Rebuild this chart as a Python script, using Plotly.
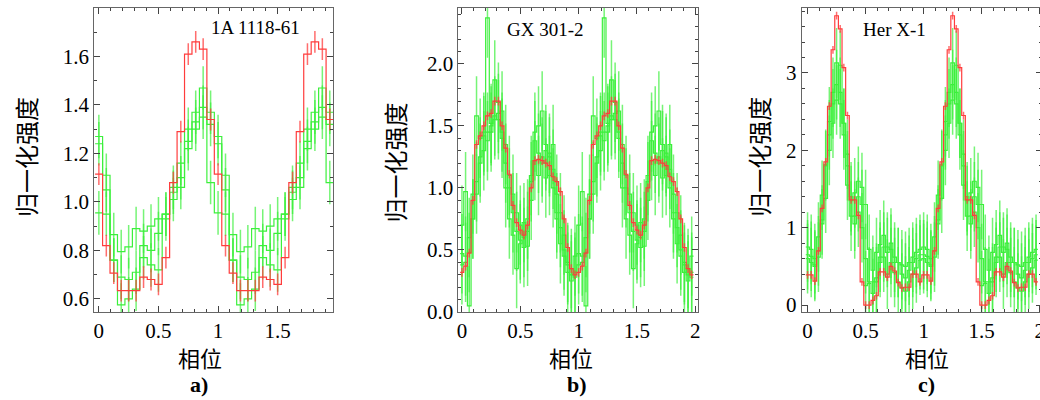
import plotly.graph_objects as go

# ---------------- data (one pulse cycle, plotted twice) ----------------
bins_a = 16
red_a = [1.115, 0.82, 0.706, 0.634, 0.634, 0.634, 0.69, 0.68, 0.66, 0.77, 1.08, 1.29, 1.61, 1.66, 1.63, 1.34]
green_a1 = [1.24, 1.11, 0.865, 0.795, 0.815, 0.89, 0.88, 0.90, 0.93, 0.95, 1.06, 1.16, 1.30, 1.33, 1.35, 1.32]
green_a2 = [1.27, 1.05, 0.76, 0.69, 0.68, 0.71, 0.82, 0.80, 0.87, 0.93, 1.04, 1.10, 1.22, 1.37, 1.47, 1.37]
green_a3 = [0.955, 0.95, 0.76, 0.575, 0.60, 0.64, 0.77, 0.74, 0.72, 0.95, 1.01, 1.06, 1.25, 1.30, 1.39, 1.08]
red_a_err = 0.045
green_a_err = 0.09

bins_b = 32
red_b = [0.32, 0.37, 0.475, 0.90, 1.35, 1.42, 1.50, 1.58, 1.60, 1.70, 1.70, 1.50, 1.32, 1.11, 0.86, 0.72,
         0.66, 0.62, 0.70, 1.00, 1.22, 1.23, 1.22, 1.20, 1.18, 1.09, 1.05, 0.97, 0.75, 0.52, 0.35, 0.30]
green_b1 = [0.70, 0.97, 0.05, 0.75, 1.58, 1.40, 1.45, 2.37, 1.52, 1.87, 1.69, 1.40, 1.00, 0.75, 0.62, 0.35,
            0.55, 0.72, 0.53, 1.10, 1.45, 1.50, 1.62, 1.35, 1.10, 1.35, 0.75, 0.55, 0.62, 0.40, 0.25, 0.45]
green_b2 = [0.47, 0.45, 0.60, 0.95, 1.05, 1.25, 1.42, 1.38, 1.45, 1.55, 1.60, 1.62, 1.35, 1.10, 0.95, 0.80,
            0.70, 0.60, 0.75, 1.05, 1.38, 1.28, 1.20, 1.30, 1.25, 1.00, 0.95, 0.80, 0.50, 0.38, 0.30, 0.32]
green_b3 = [0.38, 0.40, 0.48, 0.75, 0.95, 1.20, 1.30, 1.45, 1.50, 1.58, 1.55, 1.45, 1.20, 1.00, 0.80, 0.65,
            0.58, 0.52, 0.65, 0.90, 1.22, 1.10, 1.25, 1.08, 1.28, 1.15, 0.80, 0.68, 0.45, 0.32, 0.35, 0.28]
red_b_err = 0.035
green_b_err = 0.32

bins_c = 32
red_c = [0.39, 0.39, 0.31, 0.70, 1.25, 1.85, 2.57, 3.30, 3.74, 3.57, 3.07, 2.45, 1.36, 1.36, 1.16, 0.30,
         0.00, 0.00, 0.06, 0.12, 0.43, 0.43, 0.36, 0.50, 0.44, 0.29, 0.22, 0.23, 0.23, 0.40, 0.40, 0.30]
green_c1 = [0.75, 0.72, 0.60, 0.88, 1.42, 1.82, 2.37, 2.75, 2.85, 2.60, 2.20, 1.95, 1.35, 1.45, 1.60, 1.52,
            1.30, 0.72, 0.45, 0.68, 0.78, 0.90, 0.75, 0.72, 0.55, 0.55, 0.52, 0.50, 0.55, 0.62, 0.68, 0.72]
green_c2 = [0.65, 0.63, 0.52, 0.70, 1.10, 1.80, 2.20, 2.60, 3.13, 2.75, 2.35, 1.80, 1.40, 1.15, 1.40, 1.30,
            0.60, 0.30, 0.30, 0.35, 0.62, 0.75, 0.68, 0.80, 0.62, 0.55, 0.40, 0.35, 0.45, 0.55, 0.60, 0.65]
green_c3 = [0.60, 0.55, 0.50, 0.62, 1.05, 1.38, 2.00, 2.35, 2.65, 3.10, 2.35, 1.55, 1.15, 1.05, 1.20, 1.00,
            0.25, 0.28, 0.15, 0.30, 0.55, 0.62, 0.40, 0.55, 0.42, 0.30, 0.22, 0.18, 0.30, 0.40, 0.48, 0.58]
red_c_err = 0.05
green_c_err = 0.45

sources = ["1A 1118-61", "GX 301-2", "Her X-1"]
panel_labels = ["a)", "b)", "c)"]
x_title = "相位"
y_title = "归一化强度"
x_tickvals = [0, 0.5, 1, 1.5, 2]
x_ticktext = ["0", "0.5", "1", "1.5", "2"]

# ---------------- style ----------------
RED = "rgb(255,60,60)"
RED_ERR = "rgba(255,60,60,0.75)"
GREEN = "rgb(60,240,60)"
GREEN_ERR = "rgba(60,240,60,0.7)"
TW, TH = 1040, 400          # target picture size (layout positions are given in these pixels)
FW, FH = 1046, 412          # figure size (the page is photographed slightly larger and scaled down)
SERIF = "Liberation Serif, DejaVu Serif, serif"
CJK = "Noto Sans CJK SC"

fig = go.Figure()


def add_series(vals, n, err, color, ecolor, xa, ya):
    v = vals * 2
    xe = [(k - 0.5) / n for k in range(len(v) + 1)]
    ye = v + [v[-1]]
    fig.add_trace(go.Scatter(x=xe, y=ye, mode="lines", line=dict(color=color, width=1.2, shape="hv"),
                             xaxis=xa, yaxis=ya, showlegend=False, hoverinfo="skip"))
    xc = [k / n for k in range(len(v))]
    fig.add_trace(go.Scatter(x=xc, y=v, mode="markers", marker=dict(size=1, color=color, opacity=0),
                             error_y=dict(type="constant", value=err, color=ecolor, thickness=1.5, width=0),
                             xaxis=xa, yaxis=ya, showlegend=False, hoverinfo="skip"))


panels = [
    (bins_a, red_a, red_a_err, [green_a1, green_a2, green_a3], green_a_err),
    (bins_b, red_b, red_b_err, [green_b1, green_b2, green_b3], green_b_err),
    (bins_c, red_c, red_c_err, [green_c1, green_c2, green_c3], green_c_err),
]
for i, (n, red, rerr, greens, gerr) in enumerate(panels):
    xa = "x" if i == 0 else f"x{i+1}"
    ya = "y" if i == 0 else f"y{i+1}"
    for g in greens:
        add_series(g, n, gerr, GREEN, GREEN_ERR, xa, ya)
    add_series(red, n, rerr, RED, RED_ERR, xa, ya)

# plot-area pixel boxes (target pixels)
boxes = [(92, 331), (456, 695), (799, 1039)]
top_px, bot_px = 8, 312
xranges = [[-0.04, 1.967], [-0.03, 2.02], [-0.05, 2.02]]
yranges = [[0.546, 1.80], [0.0, 2.45], [-0.09, 3.84]]
ydticks = [0.2, 0.5, 1]
yminor = [0.1, 0.1, 0.2]
yfmt = [".1f", ".1f", "d"]


def axis_common():
    return dict(showline=True, linecolor="#666", linewidth=1, mirror="ticks",
                ticks="inside", ticklen=6, tickcolor="#444", tickwidth=1,
                showgrid=False, zeroline=False,
                tickfont=dict(family=SERIF, size=21, color="black"))


for i in range(3):
    l, r = boxes[i]
    xd = [l / TW, r / TW]
    yd = [1 - bot_px / TH, 1 - top_px / TH]
    sfx = "" if i == 0 else str(i + 1)
    xa = axis_common()
    xa.update(domain=xd, range=xranges[i], anchor="y" + sfx, tickvals=x_tickvals, ticktext=x_ticktext,
              minor=dict(ticks="inside", ticklen=3, dtick=0.1, tick0=0, tickcolor="#444"))
    ya = axis_common()
    ya.update(domain=yd, range=yranges[i], anchor="x" + sfx, dtick=ydticks[i], tick0=0,
              tickformat=yfmt[i],
              minor=dict(ticks="inside", ticklen=3, dtick=yminor[i], tick0=0, tickcolor="#444"))
    fig.layout["xaxis" + sfx] = xa
    fig.layout["yaxis" + sfx] = ya

ann = []
src_pos = [(253, 27), (543, 29), (892, 29)]
xt_pos = [198, 568, 924]
lab_pos = [197, 574, 924]
yt_pos = [(23, 157), (392, 162), (755, 157)]


def a(text, px, py, font, angle=0):
    return dict(text=text, x=px / TW, y=1 - py / TH, xref="paper", yref="paper", xanchor="center",
                yanchor="middle", showarrow=False, textangle=angle, font=font)


for i in range(3):
    ann.append(a(sources[i], src_pos[i][0], src_pos[i][1], dict(family=SERIF, size=19, color="black")))
    ann.append(a(x_title, xt_pos[i], 357, dict(family=CJK, size=22, color="black")))
    ann.append(a("<b>" + panel_labels[i] + "</b>", lab_pos[i], 384, dict(family=SERIF, size=22, color="black")))
    ann.append(a(y_title, yt_pos[i][0], yt_pos[i][1], dict(family=CJK, size=24, color="black"), -90))

fig.update_layout(width=FW, height=FH, autosize=False, margin=dict(l=0, r=0, t=0, b=0),
                  paper_bgcolor="white", plot_bgcolor="white", annotations=ann, showlegend=False)

post = "document.documentElement.style.margin='0';document.body.style.margin='0';document.body.style.padding='0';"
fig.write_html("out.html", config={"responsive": False, "displayModeBar": False, "staticPlot": True},
               post_script=post)
